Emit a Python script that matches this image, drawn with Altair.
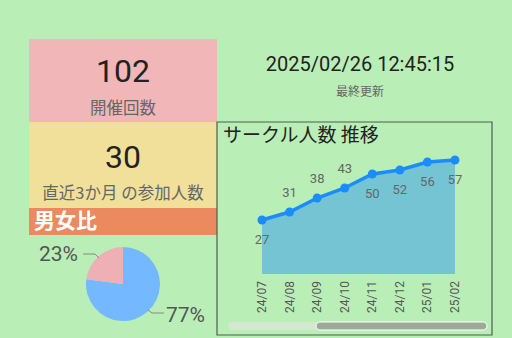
import altair as alt
import pandas as pd

# ---- data ----
kpi_values = ["102", "30"]
kpi_labels = ["開催回数", "直近3か月 の参加人数"]
updated_at = "2025/02/26 12:45:15"
updated_label = "最終更新"
sexes = ["男性", "女性"]
ratios = [77, 23]
months = ["24/07", "24/08", "24/09", "24/10", "24/11", "24/12", "25/01", "25/02"]
members = [27, 31, 38, 43, 50, 52, 56, 57]
label_side = ["below", "above", "above", "above", "below", "below", "below", "below"]

W, H = 512, 338
BG = "#b9efb6"
JP = "Noto Sans CJK JP"
NUM = "Roboto"

one = pd.DataFrame({"k": [0]})
trend = pd.DataFrame({"month": months, "members": members, "side": label_side})
pie = pd.DataFrame({"sex": sexes, "ratio": ratios,
                    "label": [f"{r}%" for r in ratios]})

def box(x, x2, y, y2, color, **kw):
    return alt.Chart(one).mark_rect(color=color, **kw).encode(
        x=alt.value(x), x2=alt.value(x2), y=alt.value(y), y2=alt.value(y2))

def label(text, x, y, size, color, font=JP, align="center", weight="normal"):
    return alt.Chart(one).mark_text(
        text=text, fontSize=size, color=color, font=font, align=align,
        baseline="middle", fontWeight=weight).encode(x=alt.value(x), y=alt.value(y))

layers = []
# KPI boxes
layers.append(box(29, 217, 39, 122, "#f0b6b8"))
layers.append(box(29, 217, 122, 208, "#f0e09a"))
layers.append(box(29, 217, 208, 235, "#ec8a5f"))
layers.append(label(kpi_values[0], 123, 72, 32, "#222222", font=NUM))
layers.append(label(kpi_labels[0], 123, 109, 16.5, "#666666"))
layers.append(label(kpi_values[1], 123, 158, 32, "#222222", font=NUM))
layers.append(label(kpi_labels[1], 123, 194, 16.5, "#666666"))
layers.append(label("男女比", 34, 222, 21, "#ffffff", align="left", weight="bold"))

# updated time
layers.append(label(updated_at, 360, 65, 20, "#222222", font=NUM))
layers.append(label(updated_label, 360, 92, 12, "#666666"))

# pie
pie_base = alt.Chart(pie)
layers.append(pie_base.mark_arc(radius=37).encode(
    theta=alt.Theta("ratio:Q", stack=True),
    order=alt.Order("ratio:Q", sort="descending"),
    color=alt.Color("sex:N", scale=alt.Scale(domain=sexes, range=["#74b9ff", "#eeb0b5"]), legend=None),
    x=alt.value(123), y=alt.value(284)))
layers.append(pie_base.transform_filter(alt.datum.sex == sexes[1]).mark_text(
    fontSize=21, color="#555555", font=NUM, align="right", baseline="middle").encode(
    text="label:N", x=alt.value(78), y=alt.value(255)))
layers.append(pie_base.transform_filter(alt.datum.sex == sexes[0]).mark_text(
    fontSize=21, color="#555555", font=NUM, align="left", baseline="middle").encode(
    text="label:N", x=alt.value(166), y=alt.value(316)))
layers.append(alt.Chart(pd.DataFrame({"px": [83, 95, 99], "py": [254, 254, 258], "o": [0, 1, 2]}))
              .mark_line(color="#888888", strokeWidth=1).encode(
    x=alt.X("px:Q", scale=alt.Scale(domain=[0, W], range=[0, W]), axis=None),
    y=alt.Y("py:Q", scale=alt.Scale(domain=[0, H], range=[0, H]), axis=None),
    order="o:Q"))
layers.append(alt.Chart(pd.DataFrame({"px": [148, 152, 164], "py": [310, 313, 313], "o": [0, 1, 2]}))
              .mark_line(color="#888888", strokeWidth=1).encode(
    x=alt.X("px:Q", scale=alt.Scale(domain=[0, W], range=[0, W]), axis=None),
    y=alt.Y("py:Q", scale=alt.Scale(domain=[0, H], range=[0, H]), axis=None),
    order="o:Q"))

# trend panel frame
layers.append(box(217, 492, 122, 335, BG, stroke="#4d5f4d", strokeWidth=1.2))
layers.append(label("サークル人数 推移", 223, 136, 19, "#222222", align="left"))

xs = alt.Scale(type="point", domain=months, range=[262, 455], padding=0)
ys = alt.Scale(domain=[0, 57], range=[274, 160], nice=False, zero=True)
tb = alt.Chart(trend)
X = alt.X("month:N", scale=xs, axis=None)
Y = alt.Y("members:Q", scale=ys, axis=None)
layers.append(tb.mark_area(color="#74c4d3", opacity=1).encode(x=X, y=Y))
layers.append(tb.mark_line(color="#1a8cff", strokeWidth=3.5).encode(x=X, y=Y))
layers.append(tb.mark_circle(color="#1a8cff", size=80, opacity=1).encode(x=X, y=Y))
layers.append(tb.transform_filter(alt.datum.side == "above").mark_text(
    dy=-19, fontSize=13, color="#666666", font=NUM).encode(x=X, y=Y, text="members:Q"))
layers.append(tb.transform_filter(alt.datum.side == "below").mark_text(
    dy=20, fontSize=13, color="#666666", font=NUM).encode(x=X, y=Y, text="members:Q"))
layers.append(tb.mark_text(angle=270, align="right", baseline="middle", fontSize=12,
                           color="#555555", font=NUM).encode(
    x=X, y=alt.value(281), text="month:N"))

# scrollbar
layers.append(box(228, 488, 322, 330, "#d3e8cf", cornerRadius=4))
layers.append(box(316, 487, 322, 330, "#9cab99", cornerRadius=4, stroke="#ffffff", strokeWidth=1))

chart = alt.layer(*layers).resolve_scale(
    x="independent", y="independent", color="independent", theta="independent"
).properties(
    width=W, height=H, padding=0, autosize=alt.AutoSizeParams(type="none"),
    background=BG
).configure_view(stroke=None)

chart.save("out.html", embed_options={"renderer": "svg", "actions": False})
